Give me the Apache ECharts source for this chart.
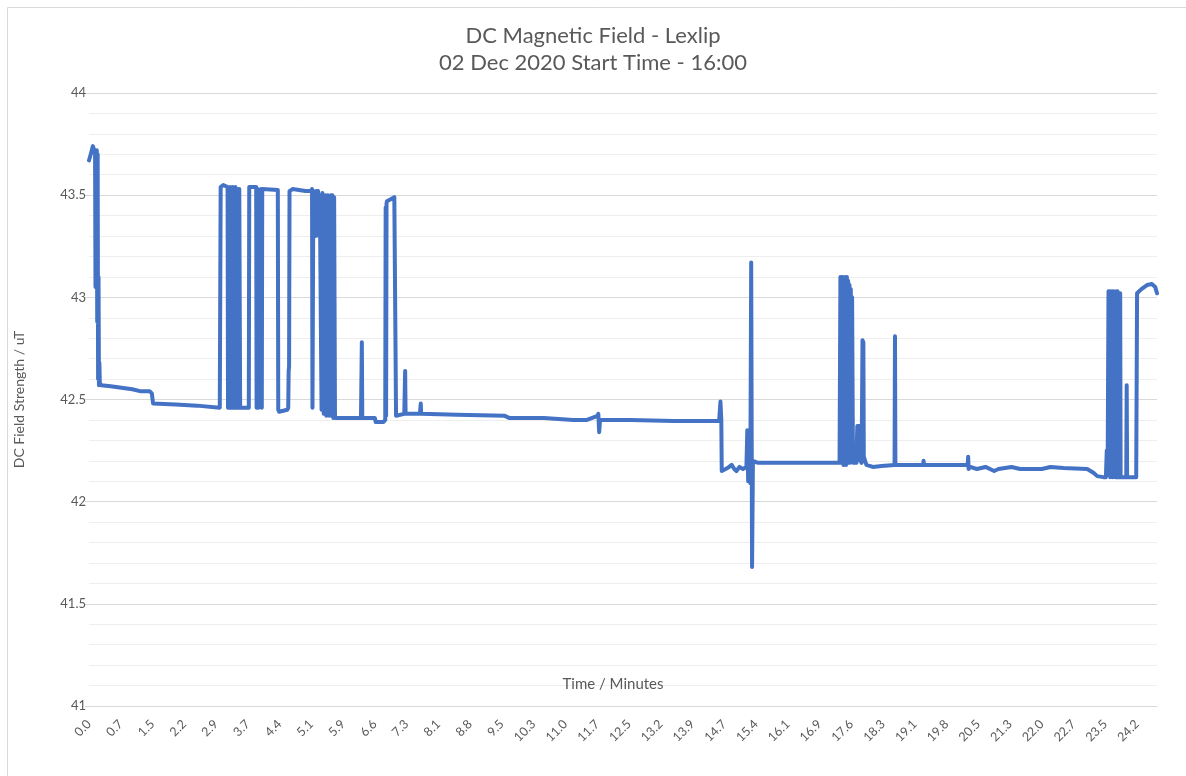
<!DOCTYPE html>
<html>
<head>
<meta charset="utf-8">
<script src="https://cdn.jsdelivr.net/npm/echarts@6/dist/echarts.min.js"></script>
<style>
html,body{margin:0;padding:0;background:#fff;}
#chart{width:1186px;height:776px;}
</style>
</head>
<body>
<div id="chart"></div>
<script>
// Title texts
const titleLines = ['DC Magnetic Field - Lexlip', '02 Dec 2020 Start Time - 16:00'];
const xAxisTitle = 'Time / Minutes';
const yAxisTitle = 'DC Field Strength / uT';

// Time (minutes) of each reading
const times = [
  0.00, 0.04, 0.09, 0.12, 0.14, 0.15, 0.16, 0.17, 0.18, 0.19, 0.20, 0.21, 0.22, 0.23, 0.24, 0.25, 0.28,
  0.50, 1.00, 1.20, 1.40, 1.45, 1.48, 2.00, 2.50, 3.02,
  3.03, 3.04, 3.08, 3.10, 3.20, 3.21, 3.23, 3.24, 3.26, 3.27, 3.29, 3.30, 3.32, 3.33, 3.35, 3.36, 3.38, 3.39, 3.41, 3.42, 3.44, 3.45, 3.47, 3.49,
  3.69, 3.70, 3.72, 3.86, 3.87, 3.89, 3.91, 3.93, 3.95, 3.97, 3.99, 4.00, 4.02, 4.36, 4.37, 4.39, 4.58,
  4.60, 4.61, 4.62, 4.63, 4.70, 5.00, 5.13, 5.15, 5.16, 5.18, 5.22, 5.23, 5.25, 5.27, 5.29, 5.31, 5.33,
  5.37, 5.39, 5.42, 5.45, 5.48, 5.51, 5.53, 5.55, 5.58, 5.60, 5.62, 5.64, 5.66, 5.68,
  6.28, 6.30, 6.31, 6.60, 6.62, 6.80, 6.84, 6.85, 6.86, 6.87, 6.88, 7.05, 7.07, 7.09, 7.28, 7.30, 7.31,
  7.64, 7.66, 7.67, 8.50, 9.60, 9.70, 10.50, 11.18, 11.50, 11.74, 11.76, 11.78, 11.80,
  12.50, 13.50, 14.55, 14.58, 14.60, 14.61,
  14.70, 14.78, 14.84, 14.90, 14.95, 15.02, 15.10, 15.18, 15.20, 15.22, 15.24, 15.27, 15.29, 15.31, 15.33,
  15.45, 16.00, 16.50, 17.00, 17.33,
  17.35, 17.36, 17.38, 17.39, 17.41, 17.42, 17.44, 17.45, 17.47, 17.48, 17.50, 17.51, 17.53, 17.54, 17.56, 17.57, 17.59, 17.60, 17.62, 17.64,
  17.72, 17.74, 17.80, 17.81, 17.84, 17.86, 17.88, 17.89, 17.95, 18.10, 18.30, 18.60, 18.61, 18.62,
  19.26, 19.27, 19.28, 20.29, 20.30, 20.31, 20.35, 20.50, 20.70, 20.90, 21.00, 21.30, 21.50,
  22.00, 22.20, 22.50, 23.05, 23.20, 23.28, 23.42, 23.48, 23.50, 23.52,
  23.54, 23.55, 23.57, 23.58, 23.60, 23.61, 23.63, 23.64, 23.66, 23.67, 23.69, 23.70, 23.72, 23.73, 23.75, 23.76, 23.78, 23.79, 23.81, 23.82, 23.86,
  23.95, 23.96, 23.97, 24.18, 24.20, 24.30, 24.43, 24.54, 24.62, 24.66
];

// DC field strength (uT) at each reading
const fieldValues = [
  43.67, 43.70, 43.74, 43.72, 43.71, 43.05, 43.70, 43.05, 43.72, 42.88, 43.70, 42.60, 43.10, 42.57, 42.68, 42.58, 42.57,
  42.565, 42.55, 42.54, 42.54, 42.53, 42.48, 42.475, 42.47, 42.46,
  42.46, 43.54, 43.54, 43.55, 43.54, 42.46, 43.53, 42.46, 43.54, 42.47, 43.53, 42.46, 43.54, 42.46, 43.53, 42.46, 43.54, 42.47, 43.53, 42.46, 43.53, 42.46, 43.53, 42.46,
  42.46, 43.54, 43.54, 43.54, 42.46, 43.53, 42.46, 43.52, 42.47, 43.53, 42.46, 43.53, 43.53, 43.525, 42.45, 42.44, 42.45,
  42.46, 42.64, 42.66, 43.52, 43.53, 43.52, 43.52, 43.53, 42.46, 43.52, 43.50, 43.30, 43.52, 43.35, 43.52, 43.30, 43.50,
  42.45, 43.51, 42.43, 43.50, 42.42, 43.50, 43.49, 42.42, 43.50, 42.42, 43.50, 42.41, 43.49, 42.41,
  42.41, 42.78, 42.41, 42.41, 42.39, 42.39, 42.40, 43.44, 42.42, 43.46, 43.47, 43.49, 43.49, 42.42, 42.43, 42.64, 42.43,
  42.43, 42.48, 42.43, 42.425, 42.42, 42.41, 42.41, 42.40, 42.40, 42.42, 42.43, 42.34, 42.40,
  42.40, 42.395, 42.395, 42.49, 42.40, 42.15,
  42.16, 42.17, 42.18, 42.16, 42.15, 42.17, 42.16, 42.17, 42.35, 42.10, 42.30, 42.09, 43.17, 41.68, 42.20,
  42.19, 42.19, 42.19, 42.19, 42.19,
  43.10, 42.19, 43.10, 42.19, 43.10, 42.18, 43.09, 42.19, 43.10, 42.18, 43.10, 42.20, 43.08, 42.19, 43.06, 42.19, 43.04, 42.25, 43.00, 42.19,
  42.19, 42.37, 42.37, 42.20, 42.19, 42.79, 42.78, 42.22, 42.18, 42.17, 42.175, 42.18, 42.81, 42.18,
  42.18, 42.20, 42.18, 42.18, 42.22, 42.16, 42.17, 42.16, 42.17, 42.15, 42.16, 42.17, 42.16,
  42.16, 42.17, 42.165, 42.16, 42.14, 42.125, 42.12, 42.12, 42.25, 42.13,
  43.03, 42.13, 43.03, 42.12, 43.03, 42.13, 43.03, 42.12, 43.03, 42.13, 43.02, 42.12, 43.03, 42.12, 43.03, 42.12, 43.02, 42.12, 43.02, 42.12, 42.12,
  42.12, 42.57, 42.12, 42.12, 43.02, 43.04, 43.06, 43.065, 43.05, 43.02
];

// Axis settings
const yMin = 41, yMax = 44, yStep = 0.5;
const xMin = 0, xMax = 24.66, xStep = 11 / 15; // labels every 44 s

const FONT = 'Lato, "Liberation Sans", sans-serif';
const chart = echarts.init(document.getElementById('chart'), null, {renderer: 'canvas'});
chart.setOption({
  animation: false,
  backgroundColor: '#ffffff',
  graphic: [{
    type: 'rect', left: 5, top: 5, silent: true,
    shape: {width: 1200, height: 800},
    style: {fill: 'none', stroke: '#d9d9d9', lineWidth: 1}
  }],
  title: {
    text: titleLines.join('\n'),
    left: 'center',
    top: 17,
    textStyle: {fontFamily: FONT, fontSize: 22, fontWeight: 'normal', color: '#595959', lineHeight: 27}
  },
  grid: {left: 89, right: 29, top: 93, bottom: 70, containLabel: false},
  xAxis: {
    type: 'value',
    min: xMin, max: xMax, interval: xStep,
    name: xAxisTitle,
    nameLocation: 'middle',
    nameGap: -29,
    nameTextStyle: {fontFamily: FONT, fontSize: 15, color: '#595959', padding: [0, 20, 0, 0]},
    axisLine: {show: true, lineStyle: {color: '#d9d9d9', width: 1}},
    axisTick: {show: false},
    splitLine: {show: false},
    axisLabel: {
      rotate: 45, margin: 16, showMaxLabel: false,
      fontFamily: FONT, fontSize: 12.5, color: '#595959',
      formatter: v => v.toFixed(1)
    }
  },
  yAxis: {
    type: 'value',
    min: yMin, max: yMax, interval: yStep,
    name: yAxisTitle,
    nameLocation: 'middle',
    nameGap: 63,
    nameTextStyle: {fontFamily: FONT, fontSize: 14, color: '#595959'},
    axisLine: {show: false},
    axisTick: {show: true, length: 4, lineStyle: {color: '#d9d9d9'}},
    axisLabel: {margin: 3, fontFamily: FONT, fontSize: 13, color: '#595959'},
    splitLine: {show: true, lineStyle: {color: '#d9d9d9', width: 1}},
    minorTick: {show: false, splitNumber: 5},
    minorSplitLine: {show: true, lineStyle: {color: '#eeeeee', width: 1}}
  },
  series: [{
    type: 'line',
    data: times.map((t, i) => [t, fieldValues[i]]),
    showSymbol: false,
    smooth: false,
    lineStyle: {color: '#4472C4', width: 4, join: 'round', cap: 'round'},
    itemStyle: {color: '#4472C4'}
  }]
});
</script>
</body>
</html>
